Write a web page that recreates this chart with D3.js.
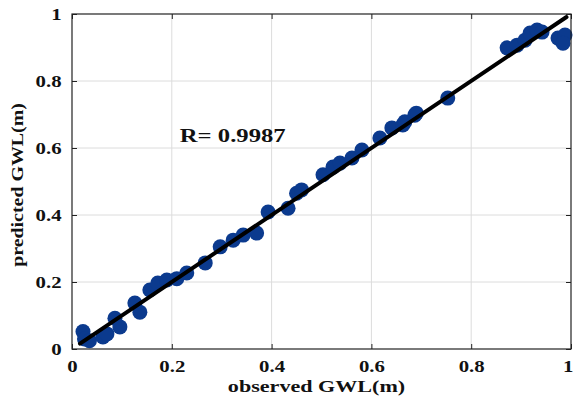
<!DOCTYPE html>
<html><head><meta charset="utf-8">
<script src="https://cdn.jsdelivr.net/npm/d3@7"></script>
<style>body{margin:0;background:#fff}svg{display:block}</style>
</head><body>
<script>
const observed = [0.022,0.025,0.035,0.062,0.07,0.086,0.096,0.126,0.136,0.156,0.172,0.19,0.21,0.23,0.267,0.297,0.323,0.343,0.37,0.393,0.433,0.45,0.46,0.503,0.523,0.537,0.561,0.581,0.617,0.641,0.663,0.667,0.687,0.69,0.753,0.872,0.892,0.908,0.918,0.932,0.942,0.974,0.988,0.984];
const predicted = [0.052,0.03,0.025,0.036,0.045,0.092,0.066,0.137,0.11,0.176,0.197,0.206,0.21,0.227,0.257,0.305,0.325,0.34,0.346,0.409,0.42,0.465,0.475,0.52,0.543,0.555,0.57,0.594,0.63,0.66,0.669,0.678,0.698,0.704,0.749,0.899,0.907,0.922,0.943,0.952,0.946,0.928,0.937,0.913];
const fitLine = [0.016, 0.991];
const xTicks = [0, 0.2, 0.4, 0.6, 0.8, 1];
const yTicks = [0, 0.2, 0.4, 0.6, 0.8, 1];
const rLabel = "R= 0.9987";
const xLabel = "observed GWL(m)";
const yLabel = "predicted GWL(m)";

const W = 573, H = 400;
const m = {left:72, right:2, top:14, bottom:51};
const svg = d3.select("body").append("svg").attr("width",W).attr("height",H);
const x = d3.scaleLinear().domain([0,1]).range([m.left, W-m.right]);
const y = d3.scaleLinear().domain([0,1]).range([H-m.bottom, m.top]);
const font = "'Liberation Serif','Times New Roman',serif";
const fmt = d => d===0 ? "0" : d===1 ? "1" : d3.format(".1f")(d);
const SX = 1.3;

// grid
svg.append("g").selectAll("line.gx").data(xTicks.slice(1,-1)).join("line")
  .attr("x1",d=>x(d)).attr("x2",d=>x(d)).attr("y1",y(0)).attr("y2",y(1))
  .attr("stroke","#dcdcdc").attr("stroke-width",1);
svg.append("g").selectAll("line.gy").data(yTicks.slice(1,-1)).join("line")
  .attr("y1",d=>y(d)).attr("y2",d=>y(d)).attr("x1",x(0)).attr("x2",x(1))
  .attr("stroke","#dcdcdc").attr("stroke-width",1);

// points
svg.append("g").selectAll("circle").data(observed.map((o,i)=>[o,predicted[i]])).join("circle")
  .attr("cx",d=>x(d[0])).attr("cy",d=>y(d[1])).attr("r",7.5)
  .attr("fill","#0b3a8e");

// fit line
svg.append("line").attr("x1",x(fitLine[0])).attr("y1",y(fitLine[0]))
  .attr("x2",x(fitLine[1])).attr("y2",y(fitLine[1]))
  .attr("stroke","#000").attr("stroke-width",4).attr("stroke-linecap","round");

// axes
const styleAxis = g => {
  g.selectAll("text").attr("font-family",font).attr("font-weight","bold").attr("font-size","16px").attr("fill","#111")
    .attr("transform",`scale(${SX},1)`);
  g.selectAll("line").attr("stroke","#222");
  g.select(".domain").remove();
};
const xb = svg.append("g").attr("transform",`translate(0,${y(0)})`)
  .call(d3.axisBottom(x).tickValues(xTicks).tickFormat(fmt).tickSizeInner(-5).tickSizeOuter(0).tickPadding(12))
  .call(styleAxis);
xb.selectAll(".tick text").filter(d=>d===1).attr("text-anchor","end").attr("dx","1.5");
svg.append("g").attr("transform",`translate(0,${y(1)})`)
  .call(d3.axisTop(x).tickValues(xTicks).tickFormat("").tickSizeInner(-5).tickSizeOuter(0))
  .call(styleAxis);
svg.append("g").attr("transform",`translate(${x(0)},0)`)
  .call(d3.axisLeft(y).tickValues(yTicks).tickFormat(fmt).tickSizeInner(-5).tickSizeOuter(0).tickPadding(8))
  .call(styleAxis);
svg.append("g").attr("transform",`translate(${x(1)},0)`)
  .call(d3.axisRight(y).tickValues(yTicks).tickFormat("").tickSizeInner(-5).tickSizeOuter(0))
  .call(styleAxis);
svg.append("rect").attr("x",x(0)).attr("y",y(1)).attr("width",x(1)-x(0)).attr("height",y(0)-y(1))
  .attr("fill","none").attr("stroke","#222").attr("stroke-width",1.2);

// labels
svg.append("text").attr("transform",`translate(${x(0.216)},${y(0.618)}) scale(${SX},1)`).text(rLabel)
  .attr("font-family",font).attr("font-weight","bold").attr("font-size","19px").attr("fill","#111");
svg.append("text").attr("transform",`translate(${(x(0)+x(1))/2 - 5},392) scale(${SX},1)`).attr("text-anchor","middle").text(xLabel)
  .attr("font-family",font).attr("font-weight","bold").attr("font-size","17px").attr("fill","#111");
svg.append("text").attr("transform",`translate(23,185) rotate(-90) scale(1.17,1)`).attr("text-anchor","middle").text(yLabel)
  .attr("font-family",font).attr("font-weight","bold").attr("font-size","17px").attr("fill","#111");
</script>
</body></html>
